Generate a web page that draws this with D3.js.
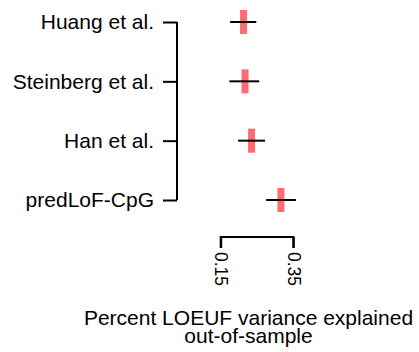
<!DOCTYPE html>
<html><head><meta charset="utf-8">
<script src="https://cdn.jsdelivr.net/npm/d3@7"></script>
<style>body{margin:0;background:#fff}svg{display:block}text{font-family:"Liberation Sans",Arial,sans-serif}</style>
</head><body>
<script>
const methods = ["Huang et al.", "Steinberg et al.", "Han et al.", "predLoF-CpG"];
const estimate = [0.213, 0.217, 0.235, 0.316];
const lower = [0.176, 0.174, 0.198, 0.275];
const upper = [0.248, 0.256, 0.272, 0.357];
const xTicks = [0.15, 0.35];
const xTitle = ["Percent LOEUF variance explained", "out-of-sample"];

const W = 419, H = 352;
const svg = d3.select("body").append("svg").attr("width", W).attr("height", H);
const x = d3.scaleLinear().domain([0.15, 0.35]).range([220.7, 293.3]);
const y = d3.scalePoint().domain(methods).range([22, 200]);

// y axis (bracket style)
const yAxis = d3.axisLeft(y).tickSize(14).tickPadding(9);
const gy = svg.append("g").attr("transform", "translate(177,0)").call(yAxis);
gy.select(".domain").attr("d", `M0,${y.range()[0]}V${y.range()[1]}`).attr("stroke", "#000").attr("stroke-width", 2);
gy.selectAll(".tick line").attr("stroke", "#000").attr("stroke-width", 2);
gy.selectAll(".tick text").attr("font-size", 21).attr("fill", "#000").attr("font-family", "Liberation Sans, Arial, sans-serif");

// x axis
const xAxis = d3.axisBottom(x).tickValues(xTicks).tickSize(11).tickFormat(d3.format(".2f"));
const gx = svg.append("g").attr("transform", "translate(0,237)").call(xAxis);
gx.select(".domain").attr("d", `M${x(0.15)},11V0H${x(0.35)}V11`).attr("stroke", "#000").attr("stroke-width", 2).attr("fill", "none");
gx.selectAll(".tick line").attr("stroke", "#000").attr("stroke-width", 2);
gx.selectAll(".tick text").attr("font-size", 17.5).attr("fill", "#000")
  .attr("font-family", "Liberation Sans, Arial, sans-serif")
  .attr("transform", "rotate(90)").attr("y", 0).attr("x", 15).attr("dy", "0.35em").attr("text-anchor", "start");

// points and intervals
const data = methods.map((m, i) => ({m, e: estimate[i], lo: lower[i], hi: upper[i]}));
svg.append("g").selectAll("rect.pt").data(data).join("rect")
  .attr("x", d => x(d.e) - 3.5).attr("width", 7)
  .attr("y", d => y(d.m) - 12).attr("height", 24)
  .attr("fill", "#ff6b6e");
svg.append("g").selectAll("line").data(data).join("line")
  .attr("x1", d => x(d.lo)).attr("x2", d => x(d.hi))
  .attr("y1", d => y(d.m)).attr("y2", d => y(d.m))
  .attr("stroke", "#000").attr("stroke-width", 2);

// title
svg.append("text").attr("text-anchor", "middle").attr("font-size", 21)
  .selectAll("tspan").data(xTitle).join("tspan")
  .attr("x", 248.5).attr("y", (d, i) => 325 + i * 18).text(d => d);
</script>
</body></html>
